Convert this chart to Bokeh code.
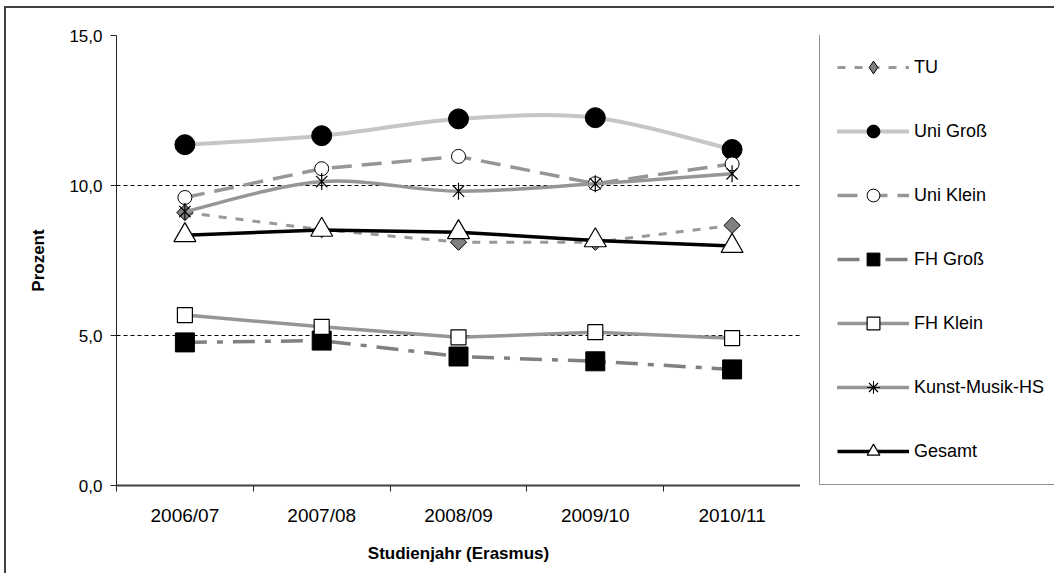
from bokeh.plotting import figure
from bokeh.layouts import row
from bokeh.models import Range1d, FixedTicker, Legend, LegendItem, ColumnDataSource
from bokeh.embed import file_html
from bokeh.resources import INLINE
import math

# ---- data ----
years = ["2006/07", "2007/08", "2008/09", "2009/10", "2010/11"]
tu = [9.10, 8.53, 8.11, 8.11, 8.67]
uni_gross = [11.36, 11.66, 12.22, 12.26, 11.20]
uni_klein = [9.60, 10.56, 10.97, 10.06, 10.72]
fh_gross = [4.77, 4.83, 4.30, 4.14, 3.87]
fh_klein = [5.68, 5.29, 4.94, 5.11, 4.91]
kunst_musik = [9.13, 10.13, 9.81, 10.06, 10.39]
gesamt = [8.34, 8.52, 8.44, 8.17, 7.98]
y_ticks = [0, 5, 10, 15]
y_tick_labels = ["0,0", "5,0", "10,0", "15,0"]
series_names = ["TU", "Uni Groß", "Uni Klein", "FH Groß", "FH Klein", "Kunst-Musik-HS", "Gesamt"]
x_title = "Studienjahr (Erasmus)"
y_title = "Prozent"

FONT = "Liberation Sans"
xs = [i + 0.5 for i in range(len(years))]
n_cat = len(years)

# layout (pixels)
H = 565
LEFT, TOP, BOTTOM = 110, 27, 88
FRAME_W = 684
W_MAIN = LEFT + FRAME_W
W_LEG = 254

p = figure(width=W_MAIN, height=H, output_backend="svg", toolbar_location=None,
           x_range=Range1d(0, n_cat), y_range=Range1d(0, 15),
           min_border_left=LEFT, min_border_top=TOP, min_border_bottom=BOTTOM, min_border_right=0)
p.outline_line_color = None
p.background_fill_color = "white"
p.border_fill_color = "white"

# x axis: labels at category centres, ticks at boundaries
p.xaxis.ticker = FixedTicker(ticks=xs, minor_ticks=list(range(n_cat + 1)))
p.xaxis.major_label_overrides = {x: y for x, y in zip(xs, years)}
p.xaxis.major_tick_line_color = None
p.xaxis.major_tick_out = 0
p.xaxis.major_tick_in = 0
p.xaxis.minor_tick_out = 6
p.xaxis.minor_tick_in = 0
p.xaxis.minor_tick_line_color = "#222222"
p.xaxis.axis_line_color = "#404040"
p.xaxis.axis_line_width = 2
p.xaxis.major_label_text_font = FONT
p.xaxis.major_label_text_font_size = "19px"
p.xaxis.major_label_text_color = "black"
p.xaxis.major_label_standoff = 13
p.xaxis.axis_label = x_title
p.xaxis.axis_label_text_font = FONT
p.xaxis.axis_label_text_font_style = "bold"
p.xaxis.axis_label_text_font_size = "17px"
p.xaxis.axis_label_text_color = "black"
p.xaxis.axis_label_standoff = 15

p.yaxis.ticker = FixedTicker(ticks=y_ticks, minor_ticks=[])
p.yaxis.major_label_overrides = {t: l for t, l in zip(y_ticks, y_tick_labels)}
p.yaxis.major_tick_out = 6
p.yaxis.major_tick_in = 0
p.yaxis.major_tick_line_color = "#222222"
p.yaxis.axis_line_color = "#222222"
p.yaxis.major_label_text_font = FONT
p.yaxis.major_label_text_font_size = "17px"
p.yaxis.major_label_text_color = "black"
p.yaxis.major_label_standoff = 8
p.yaxis.axis_label = y_title
p.yaxis.axis_label_text_font = FONT
p.yaxis.axis_label_text_font_style = "bold"
p.yaxis.axis_label_text_font_size = "17px"
p.yaxis.axis_label_text_color = "black"
p.yaxis.axis_label_standoff = 18

p.xgrid.grid_line_color = None
p.ygrid.grid_line_color = "black"
p.ygrid.grid_line_dash = "4 3"
p.ygrid.grid_line_width = 1


def smooth_source(x, y):
    n = len(x)
    d = {k: [] for k in ("x0", "y0", "x1", "y1", "cx0", "cy0", "cx1", "cy1")}
    for i in range(n - 1):
        xp, yp = (x[i - 1], y[i - 1]) if i > 0 else (x[i], y[i])
        xn, yn = (x[i + 2], y[i + 2]) if i + 2 < n else (x[i + 1], y[i + 1])
        d["x0"].append(x[i]); d["y0"].append(y[i])
        d["x1"].append(x[i + 1]); d["y1"].append(y[i + 1])
        d["cx0"].append(x[i] + (x[i + 1] - xp) / 6)
        d["cy0"].append(y[i] + (y[i + 1] - yp) / 6)
        d["cx1"].append(x[i + 1] - (xn - x[i]) / 6)
        d["cy1"].append(y[i + 1] - (yn - y[i]) / 6)
    return ColumnDataSource(d)


BZ = dict(x0="x0", y0="y0", x1="x1", y1="y1", cx0="cx0", cy0="cy0", cx1="cx1", cy1="cy1")


def add_series(f):
    """Draw all series on figure f; return legend items."""
    items = []
    # TU
    l = f.line(xs, tu, line_color="#999999", line_width=3, line_dash="8 9")
    lm = f.scatter(xs, tu, marker="diamond", size=0.5, fill_color="#808080", line_color="black")
    f.scatter(xs, tu, marker="square", angle=math.pi / 4, size=11.5, fill_color="#808080",
              line_color="black", line_width=1)
    items.append(LegendItem(label=series_names[0], renderers=[l, lm]))
    # Uni Groß (smoothed)
    l = f.bezier(source=smooth_source(xs, uni_gross), line_cap="round", line_color="#c6c6c6", line_width=4, **BZ)
    m = f.scatter(xs, uni_gross, marker="circle", size=20, fill_color="black", line_color="black")
    items.append(LegendItem(label=series_names[1], renderers=[l, m]))
    # Uni Klein
    l = f.line(xs, uni_klein, line_color="#969696", line_width=3.5, line_dash="20 10")
    m = f.scatter(xs, uni_klein, marker="circle", size=14, fill_color="white", line_color="black", line_width=1)
    items.append(LegendItem(label=series_names[2], renderers=[l, m]))
    # FH Groß
    l = f.line(xs, fh_gross, line_color="#808080", line_width=3.5, line_dash="22 10 6 10")
    m = f.scatter(xs, fh_gross, marker="square", size=19, fill_color="black", line_color="black")
    items.append(LegendItem(label=series_names[3], renderers=[l, m]))
    # FH Klein
    l = f.line(xs, fh_klein, line_color="#969696", line_width=3.5)
    m = f.scatter(xs, fh_klein, marker="square", size=15, fill_color="white", line_color="black", line_width=1.2)
    items.append(LegendItem(label=series_names[4], renderers=[l, m]))
    # Kunst-Musik-HS (smoothed)
    l = f.bezier(source=smooth_source(xs, kunst_musik), line_cap="round", line_color="#969696", line_width=3.5, **BZ)
    lm = f.scatter(xs, kunst_musik, marker="asterisk", size=0.5, line_color="black")
    m = f.scatter(xs, kunst_musik, marker="x", size=16, line_color="black", line_width=1.2)
    f.scatter(xs, kunst_musik, marker="dash", angle=math.pi / 2, size=17, line_color="black", line_width=1.2)
    items.append(LegendItem(label=series_names[5], renderers=[l, m, lm]))
    # Gesamt
    l = f.line(xs, gesamt, line_color="black", line_width=3.5)
    m = f.scatter(xs, gesamt, marker="triangle", size=22, fill_color="white", line_color="black", line_width=1.2)
    items.append(LegendItem(label=series_names[6], renderers=[l, m]))
    return items


add_series(p)

# legend panel: a second figure whose (hidden) renderers feed the legend
p2 = figure(width=W_LEG, height=H, output_backend="svg", toolbar_location=None,
            x_axis_type=None, y_axis_type=None,
            x_range=Range1d(0, n_cat), y_range=Range1d(0, 15),
            min_border_left=0, min_border_right=0, min_border_top=0, min_border_bottom=0)
p2.outline_line_color = None
p2.background_fill_color = "white"
p2.border_fill_color = "white"
p2.grid.visible = False
leg_items = add_series(p2)
for r in p2.renderers:
    r.visible = False

legend = Legend(items=leg_items, location=(19, 0), margin=0, padding=17,
                glyph_width=72, glyph_height=32, spacing=32, label_standoff=5, label_width=150,
                label_text_font=FONT, label_text_font_size="18px", label_text_color="black",
                border_line_color="#222222", border_line_width=1, background_fill_color="white",
                background_fill_alpha=1.0, inactive_fill_alpha=0.0)
p2.add_layout(legend, "center")

layout = row(p, p2, spacing=0,
             styles={"margin-left": "4px", "margin-top": "6px",
                     "border-left": "2px solid #404040", "border-top": "2px solid #404040"})

open("out.html", "w").write(file_html(layout, INLINE))
